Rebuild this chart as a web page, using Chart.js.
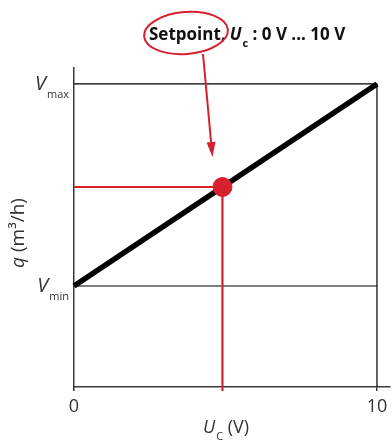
<!DOCTYPE html>
<html>
<head>
<meta charset="utf-8">
<script src="https://cdn.jsdelivr.net/npm/chart.js@4"></script>
<style>
  html, body { margin: 0; padding: 0; background: #fff; }
  #wrap { width: 392px; height: 443px; }
</style>
</head>
<body>
<div id="wrap"><canvas id="mainChart" width="392" height="443"></canvas></div>
<script>
// values (q in units where Vmin = 1, Vmax = 3)
const uc = [0, 10];
const qLine = [1, 3];
const vMin = 1;
const vMax = 3;
const setpointUc = 4.9;
const setpointQ = 1.98;
const xTickValues = [0, 10];
const xTickLabels = ['0', '10'];

const RED = '#d7202e';
const AXIS = '#3a3a3a';
const FONT = '"Open Sans", "DejaVu Sans", sans-serif';

// draws text with italic main letter and small subscript
function drawSub(ctx, main, sub, x, y, size, subSize, align, weight) {
    ctx.font = 'italic ' + (weight || '') + ' ' + size + 'px ' + FONT;
    const w1 = ctx.measureText(main).width;
    ctx.font = (weight || '') + ' ' + subSize + 'px ' + FONT;
    const w2 = ctx.measureText(sub).width;
    let left = x;
    if (align === 'right') left = x - w1 - w2 - 1;
    if (align === 'center') left = x - (w1 + w2 + 1) / 2;
    ctx.textAlign = 'left';
    ctx.textBaseline = 'alphabetic';
    ctx.font = 'italic ' + (weight || '') + ' ' + size + 'px ' + FONT;
    ctx.fillText(main, left, y);
    ctx.font = (weight || '') + ' ' + subSize + 'px ' + FONT;
    ctx.fillText(sub, left + w1 + 1, y + size * 0.4);
    return left + w1 + 1 + w2;
}

const labelsPlugin = {
    id: 'labels',
    afterDraw(chart) {
        const ctx = chart.ctx;
        const xs = chart.scales.x;
        const ys = chart.scales.y;
        ctx.save();
        ctx.fillStyle = '#333';

        // x tick labels
        ctx.font = '18px ' + FONT;
        ctx.textAlign = 'center';
        ctx.textBaseline = 'alphabetic';
        xTickValues.forEach((v, i) => {
            ctx.fillText(xTickLabels[i], xs.getPixelForValue(v), 412);
        });

        // y tick labels
        drawSub(ctx, 'V', 'max', 69, ys.getPixelForValue(vMax) + 6, 20, 11, 'right');
        drawSub(ctx, 'V', 'min', 69, ys.getPixelForValue(vMin) + 6, 20, 11, 'right');

        // x axis title
        ctx.font = '18px ' + FONT;
        const tail = ' (V)';
        const tw = ctx.measureText(tail).width;
        const end = drawSub(ctx, 'U', 'C', 226 - tw / 2, 433, 18, 11, 'center');
        ctx.font = '18px ' + FONT;
        ctx.fillText(tail, end, 433);

        // y axis title
        ctx.save();
        ctx.translate(24, 233);
        ctx.rotate(-Math.PI / 2);
        ctx.font = 'italic 19px ' + FONT;
        const q = 'q';
        const rest = ' (m³/h)';
        const qw = ctx.measureText(q).width;
        ctx.font = '19px ' + FONT;
        const rw = ctx.measureText(rest).width;
        const start = -(qw + rw) / 2;
        ctx.font = 'italic 19px ' + FONT;
        ctx.fillText(q, start, 0);
        ctx.font = '19px ' + FONT;
        ctx.fillText(rest, start + qw, 0);
        ctx.restore();

        // title
        ctx.fillStyle = '#111';
        ctx.font = 'bold 17px ' + FONT;
        ctx.fillText('Setpoint,', 149, 40);
        const sw = ctx.measureText('Setpoint,').width;
        const e2 = drawSub(ctx, 'U', 'c', 149 + sw + 4, 40, 17, 11, 'left', 'bold');
        ctx.font = 'bold 17px ' + FONT;
        ctx.fillText(' : 0 V ... 10 V', e2, 40);

        // ellipse round "Setpoint,"
        ctx.strokeStyle = RED;
        ctx.lineWidth = 2;
        ctx.beginPath();
        ctx.ellipse(186, 33, 42, 21, -0.08, 0, Math.PI * 2);
        ctx.stroke();

        // arrow to the setpoint
        const px = xs.getPixelForValue(setpointUc);
        const py = ys.getPixelForValue(setpointQ);
        const tipX = px - 10, tipY = py - 30;
        const sx = 203, sy = 54;
        const ang = Math.atan2(tipY - sy, tipX - sx);
        ctx.beginPath();
        ctx.moveTo(sx, sy);
        ctx.lineTo(tipX - 12 * Math.cos(ang), tipY - 12 * Math.sin(ang));
        ctx.stroke();
        ctx.fillStyle = RED;
        ctx.beginPath();
        ctx.moveTo(tipX, tipY);
        ctx.lineTo(tipX - 15 * Math.cos(ang) + 4.5 * Math.sin(ang), tipY - 15 * Math.sin(ang) - 4.5 * Math.cos(ang));
        ctx.lineTo(tipX - 15 * Math.cos(ang) - 4.5 * Math.sin(ang), tipY - 15 * Math.sin(ang) + 4.5 * Math.cos(ang));
        ctx.closePath();
        ctx.fill();
        ctx.restore();
    }
};

document.addEventListener('DOMContentLoaded', () => {
    const ctx = document.getElementById('mainChart').getContext('2d');

    new Chart(ctx, {
        type: 'scatter',
        data: {
            datasets: [
                {
                    // frame lines at Vmax / 10 V
                    data: [{ x: uc[0], y: vMax }, { x: uc[1], y: vMax }, { x: uc[1], y: 0 }],
                    showLine: true,
                    borderColor: '#000',
                    borderWidth: 1.2,
                    pointRadius: 0,
                    order: 4
                },
                {
                    data: [{ x: uc[0], y: vMin }, { x: uc[1], y: vMin }],
                    showLine: true,
                    borderColor: '#000',
                    borderWidth: 1.2,
                    pointRadius: 0,
                    order: 3
                },
                {
                    // setpoint guides
                    data: [{ x: 0, y: setpointQ }, { x: setpointUc, y: setpointQ }, { x: setpointUc, y: -0.04 }],
                    showLine: true,
                    borderColor: RED,
                    borderWidth: 2.2,
                    pointRadius: 0,
                    order: 2
                },
                {
                    data: uc.map((u, i) => ({ x: u, y: qLine[i] })),
                    showLine: true,
                    borderColor: '#000',
                    borderWidth: 5.5,
                    pointRadius: 0,
                    order: 1
                },
                {
                    data: [{ x: setpointUc, y: setpointQ }],
                    pointRadius: 9.5,
                    pointBackgroundColor: RED,
                    pointBorderColor: RED,
                    order: 0
                }
            ]
        },
        options: {
            responsive: false,
            animation: false,
            clip: false,
            layout: { autoPadding: false, padding: { top: 68, right: 2, left: 0, bottom: 0 } },
            plugins: {
                legend: { display: false },
                tooltip: { enabled: false }
            },
            scales: {
                x: {
                    type: 'linear',
                    min: 0,
                    max: 10.43,
                    afterFit: (s) => { s.height = 56; },
                    afterBuildTicks: (s) => { s.ticks = xTickValues.map(v => ({ value: v })); },
                    border: { display: true, color: AXIS, width: 1.5 },
                    grid: {
                        drawOnChartArea: false,
                        drawTicks: true,
                        tickLength: 4,
                        color: AXIS,
                        lineWidth: 1.5
                    },
                    ticks: { display: false }
                },
                y: {
                    type: 'linear',
                    min: 0,
                    max: 3.158,
                    afterFit: (s) => { s.width = 74; },
                    border: { display: true, color: AXIS, width: 1.5 },
                    grid: { display: false },
                    ticks: { display: false }
                }
            }
        },
        plugins: [labelsPlugin]
    });
});
</script>
</body>
</html>
